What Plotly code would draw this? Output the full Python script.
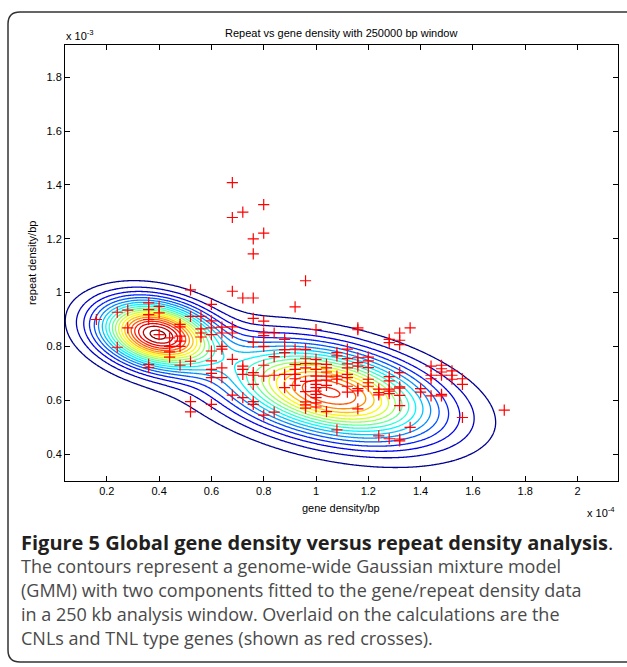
import numpy as np
import plotly.graph_objects as go

# ---------------- data ----------------
# gene density (x 1e-4 per bp) columns and repeat density (x 1e-3 per bp) values in each column
gene_columns = [0.16, 0.24, 0.28, 0.36, 0.40, 0.44, 0.48, 0.52, 0.56, 0.60,
                0.64, 0.68, 0.72, 0.76, 0.80, 0.84, 0.88, 0.92, 0.96, 1.00,
                1.04, 1.08, 1.12, 1.16, 1.20, 1.24, 1.28, 1.32, 1.36, 1.40,
                1.44, 1.48, 1.52, 1.56, 1.72]
repeat_by_column = [
    [0.900],
    [0.927, 0.797],
    [0.935, 0.869],
    [0.962, 0.937, 0.918, 0.900, 0.733, 0.721],
    [0.949, 0.925, 0.844],
    [0.832, 0.800, 0.780, 0.760],
    [0.882, 0.873, 0.838, 0.820, 0.800, 0.730],
    [1.010, 0.912, 0.745, 0.595, 0.557],
    [0.912, 0.865, 0.850, 0.835],
    [0.956, 0.895, 0.869, 0.844, 0.783, 0.746, 0.715, 0.700, 0.684, 0.585],
    [0.872, 0.850, 0.800, 0.790, 0.720, 0.684],
    [1.409, 1.279, 1.005, 0.873, 0.850, 0.752, 0.619],
    [1.299, 0.980, 0.727, 0.715, 0.696, 0.610],
    [1.200, 1.144, 0.980, 0.904, 0.815, 0.703, 0.693, 0.659, 0.595, 0.585],
    [1.327, 1.221, 0.894, 0.850, 0.840, 0.800, 0.730, 0.690, 0.545],
    [0.850, 0.762, 0.693, 0.556],
    [0.826, 0.788, 0.777, 0.696, 0.647],
    [0.947, 0.790, 0.733, 0.715, 0.696, 0.680, 0.655],
    [1.044, 0.789, 0.756, 0.736, 0.720, 0.670, 0.632, 0.594, 0.583, 0.571],
    [0.863, 0.752, 0.735, 0.715, 0.690, 0.672, 0.659, 0.647, 0.634, 0.622, 0.610, 0.590, 0.575],
    [0.733, 0.720, 0.705, 0.690, 0.675, 0.655, 0.558],
    [0.777, 0.765, 0.690, 0.678, 0.490],
    [0.790, 0.755, 0.735, 0.720, 0.696, 0.684, 0.652, 0.630],
    [0.869, 0.862, 0.758, 0.740, 0.727, 0.643, 0.635, 0.568],
    [0.760, 0.746, 0.721, 0.678, 0.665, 0.652],
    [0.641, 0.628, 0.620, 0.468],
    [0.826, 0.814, 0.688, 0.672, 0.641, 0.634, 0.625, 0.457],
    [0.850, 0.823, 0.807, 0.703, 0.650, 0.645, 0.618, 0.580, 0.456, 0.449],
    [0.869, 0.499],
    [0.643, 0.630],
    [0.727, 0.693, 0.680, 0.616],
    [0.730, 0.717, 0.705, 0.693, 0.622, 0.616],
    [0.709, 0.693, 0.678],
    [0.680, 0.659, 0.536],
    [0.563],
]

# Gaussian mixture model parameters (2 components), same units as above
gmm_weights = [0.31, 0.69]
gmm_mean_x = [0.39, 1.05]
gmm_mean_y = [0.846, 0.630]
gmm_sigma_x = [0.143, 0.268]
gmm_sigma_y = [0.0813, 0.1177]
gmm_rho = [-0.25, -0.40]
contour_fractions = [0.05, 0.98]   # lowest / highest contour as fraction of peak
n_contours = 20

x_ticks = [0.2, 0.4, 0.6, 0.8, 1.0, 1.2, 1.4, 1.6, 1.8, 2.0]
x_tick_text = ["0.2", "0.4", "0.6", "0.8", "1", "1.2", "1.4", "1.6", "1.8", "2"]
y_ticks = [0.4, 0.6, 0.8, 1.0, 1.2, 1.4, 1.6, 1.8]
y_tick_text = ["0.4", "0.6", "0.8", "1", "1.2", "1.4", "1.6", "1.8"]

caption_title = "Figure 5 Global gene density versus repeat density analysis"
caption_lines = [
    "The contours represent a genome-wide Gaussian mixture model",
    "(GMM) with two components fitted to the gene/repeat density data",
    "in a 250 kb analysis window. Overlaid on the calculations are the",
    "CNLs and TNL type genes (shown as red crosses).",
]

# ---------------- build ----------------
gene_density = [g for g, ys in zip(gene_columns, repeat_by_column) for _ in ys]
repeat_density = [y for ys in repeat_by_column for y in ys]

gx = np.linspace(0.0, 2.2, 441)
gy = np.linspace(0.25, 2.0, 351)
X, Y = np.meshgrid(gx, gy)
Z = np.zeros_like(X)
for w, mx, my, sx, sy, r in zip(gmm_weights, gmm_mean_x, gmm_mean_y,
                                 gmm_sigma_x, gmm_sigma_y, gmm_rho):
    dx = (X - mx) / sx
    dy = (Y - my) / sy
    q = (dx ** 2 - 2 * r * dx * dy + dy ** 2) / (1 - r ** 2)
    Z += w * np.exp(-q / 2) / (2 * np.pi * sx * sy * np.sqrt(1 - r ** 2))
Z = Z / Z.max()

lo, hi = contour_fractions
step = (hi - lo) / (n_contours - 1)

jet = [[0.0, "rgb(0,0,143)"], [0.125, "rgb(0,0,255)"], [0.375, "rgb(0,255,255)"],
       [0.625, "rgb(255,255,0)"], [0.875, "rgb(255,0,0)"], [1.0, "rgb(128,0,0)"]]

fig = go.Figure()
fig.add_trace(go.Contour(
    x=gx, y=gy, z=Z,
    contours=dict(coloring="lines", start=lo, end=hi + step * 0.01, size=step),
    colorscale=jet, zmin=lo, zmax=hi,
    line=dict(width=1.3), showscale=False, hoverinfo="skip",
))
fig.add_trace(go.Scatter(
    x=gene_density, y=repeat_density, mode="markers",
    marker=dict(symbol="cross-thin", size=8, line=dict(width=1.2, color="red"), color="red"),
    showlegend=False,
))

W, H = 627, 667
L, R, T, B = 65, 9, 45, 186
pw, ph = W - L - R, H - T - B


def px(xp):
    return (xp - L) / pw


def py(yp):
    return (H - B - yp) / ph


tick_font = dict(family="Liberation Sans, Arial, sans-serif", size=11, color="black")
axis_common = dict(showline=True, linecolor="black", linewidth=1, mirror="ticks",
                   ticks="inside", ticklen=5, tickcolor="black", tickwidth=1,
                   showgrid=False, zeroline=False, tickfont=tick_font)

fig.update_layout(
    width=W, height=H,
    margin=dict(l=L, r=R, t=T, b=B, pad=0),
    paper_bgcolor="white", plot_bgcolor="white",
    showlegend=False,
    xaxis=dict(range=[0.04, 2.155], tickvals=x_ticks, ticktext=x_tick_text, **axis_common),
    yaxis=dict(range=[0.30, 1.92], tickvals=y_ticks, ticktext=y_tick_text, **axis_common),
)

ann = []
ann.append(dict(text="Repeat vs gene density with 250000 bp window", x=px(341), y=py(33),
                xref="paper", yref="paper", showarrow=False, xanchor="center", yanchor="middle",
                font=tick_font))
ann.append(dict(text="x 10<sup>-3</sup>", x=px(64), y=py(35), xref="paper", yref="paper",
                showarrow=False, xanchor="left", yanchor="middle", font=tick_font))
ann.append(dict(text="gene density/bp", x=px(341), y=py(508), xref="paper", yref="paper",
                showarrow=False, xanchor="center", yanchor="middle", font=tick_font))
ann.append(dict(text="x 10<sup>-4</sup>", x=px(617), y=py(512), xref="paper", yref="paper",
                showarrow=False, xanchor="right", yanchor="middle", font=tick_font))
ann.append(dict(text="repeat density/bp", x=px(32), y=py(263), xref="paper", yref="paper",
                showarrow=False, xanchor="center", yanchor="middle", textangle=-90, font=tick_font))

cap_family = "Open Sans, Noto Sans, sans-serif"
ann.append(dict(text="<b>" + caption_title + "</b>.", x=px(19), y=py(542), xref="paper", yref="paper",
                showarrow=False, xanchor="left", yanchor="middle",
                font=dict(family=cap_family, size=20, color="#231f20")))
for i, line in enumerate(caption_lines):
    ann.append(dict(text=line, x=px(19), y=py(566 + 24 * i), xref="paper", yref="paper",
                    showarrow=False, xanchor="left", yanchor="middle",
                    font=dict(family=cap_family, size=18, color="#4a4a4a")))
fig.update_layout(annotations=ann)

# rounded outer frame (open to the right edge)
x0, y0, y1, rr, xr = 8, 12, 662, 12, 660
path = (f"M {px(xr)},{py(y0)} L {px(x0 + rr)},{py(y0)} "
        f"Q {px(x0)},{py(y0)} {px(x0)},{py(y0 + rr)} "
        f"L {px(x0)},{py(y1 - rr)} Q {px(x0)},{py(y1)} {px(x0 + rr)},{py(y1)} "
        f"L {px(xr)},{py(y1)}")
fig.add_shape(type="path", path=path, xref="paper", yref="paper",
              line=dict(color="#333333", width=1.5), layer="above")

fig.write_html("out.html",
               config={"displayModeBar": False, "staticPlot": True},
               post_script="document.body.style.margin='0';document.body.style.padding='0';"
                           "document.body.style.overflow='hidden';")
